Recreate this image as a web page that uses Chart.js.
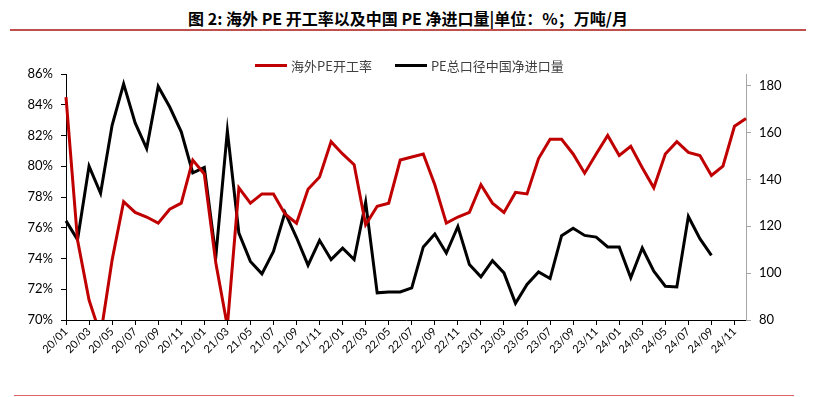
<!DOCTYPE html>
<html>
<head>
<meta charset="utf-8">
<script src="https://cdn.jsdelivr.net/npm/chart.js@4.4.0/dist/chart.umd.min.js"></script>
<style>
  body { margin: 0; background: #fff; }
  #wrap { position: relative; width: 816px; height: 397px; overflow: hidden; }
  #title {
    position: absolute; left: 0; top: 6px; width: 816px; text-align: center;
    font-family: "Noto Sans CJK SC", sans-serif; font-weight: bold; font-size: 16px; color: #000;
  }
  #rule1 { position: absolute; left: 10px; top: 29px; width: 796px; height: 2px; background: #c0504d; }
  #rule2 { position: absolute; left: 14px; top: 395px; width: 780px; height: 1px; background: #e06666; }
  #legend {
    position: absolute; left: 255px; top: 56px; height: 18px; display: flex; align-items: center;
    font-family: "Noto Sans CJK SC", sans-serif; font-size: 13px; color: #404040; z-index: 2;
  }
  #legend .item { display: flex; align-items: center; margin-right: 23px; }
  #legend .swatch { display: inline-block; width: 32px; height: 3px; margin-right: 4px; }
  canvas { position: absolute; left: 0; top: 0; }
</style>
</head>
<body>
<div id="wrap">
  <div id="title">图 2: 海外 PE 开工率以及中国 PE 净进口量|单位：%；万吨/月</div>
  <div id="rule1"></div>
  <div id="rule2"></div>
  <div id="legend"></div>
  <canvas id="chart" width="816" height="397"></canvas>
</div>
<script>
// month labels 20/01 .. 24/12
var months = [
  '20/01','20/02','20/03','20/04','20/05','20/06','20/07','20/08','20/09','20/10','20/11','20/12',
  '21/01','21/02','21/03','21/04','21/05','21/06','21/07','21/08','21/09','21/10','21/11','21/12',
  '22/01','22/02','22/03','22/04','22/05','22/06','22/07','22/08','22/09','22/10','22/11','22/12',
  '23/01','23/02','23/03','23/04','23/05','23/06','23/07','23/08','23/09','23/10','23/11','23/12',
  '24/01','24/02','24/03','24/04','24/05','24/06','24/07','24/08','24/09','24/10','24/11','24/12'
];

// 海外PE开工率 (%), left axis
var overseasRate = [
  84.5, 75.2, 71.3, 69.0, 73.9, 77.7, 77.0, 76.7, 76.3, 77.2, 77.6, 80.4,
  79.5, 73.7, 69.6, 78.6, 77.6, 78.2, 78.2, 76.9, 76.3, 78.5, 79.3, 81.6,
  80.8, 80.1, 76.2, 77.4, 77.6, 80.4, 80.6, 80.8, 78.8, 76.3, 76.7, 77.0,
  78.8, 77.6, 77.0, 78.3, 78.2, 80.5, 81.75, 81.75, 80.8, 79.55, 80.8, 82.0,
  80.7, 81.3, 79.9, 78.6, 80.8, 81.6, 80.9, 80.7, 79.4, 80.0, 82.6, 83.1
];

// PE总口径中国净进口量 (万吨/月), right axis
var netImports = [
  122.3, 114.3, 145.7, 134.1, 163.1, 180.8, 164.1, 153.2, 179.7, 170.9, 160.3, 142.8,
  145.1, 107.2, 160.7, 117.1, 105.0, 99.7, 109.3, 125.9, 115.2, 103.4, 114.0, 105.8,
  110.7, 105.8, 130.3, 91.6, 92.0, 92.0, 93.7, 111.2, 116.7, 108.6, 119.9, 103.7,
  98.4, 105.3, 100.1, 87.1, 95.2, 100.5, 97.7, 116.0, 119.2, 116.1, 115.4, 111.2,
  111.2, 98.0, 110.7, 100.8, 94.4, 94.1, 124.2, 114.7, 107.6
];

var leftTicks = [70, 72, 74, 76, 78, 80, 82, 84, 86];
var rightTicks = [80, 100, 120, 140, 160, 180];

var seriesNames = ['海外PE开工率', 'PE总口径中国净进口量'];
var seriesColors = ['#c00000', '#000000'];

var baseFont = { family: 'Lato, "Noto Sans", sans-serif', size: 13 };

var ctx = document.getElementById('chart').getContext('2d');
var myChart = new Chart(ctx, {
  type: 'line',
  data: {
    labels: months,
    datasets: [{
      label: seriesNames[0],
      data: overseasRate,
      yAxisID: 'y',
      borderColor: seriesColors[0],
      backgroundColor: seriesColors[0],
      borderWidth: 3,
      pointRadius: 0,
      tension: 0,
      clip: { left: 3, right: 3, top: 0, bottom: 0 }
    }, {
      label: seriesNames[1],
      data: netImports,
      yAxisID: 'y1',
      borderColor: seriesColors[1],
      backgroundColor: seriesColors[1],
      borderWidth: 3,
      pointRadius: 0,
      tension: 0,
      clip: { left: 3, right: 3, top: 0, bottom: 0 }
    }]
  },
  options: {
    responsive: false,
    animation: false,
    layout: { padding: { top: 74, left: 0, right: 0, bottom: 0 } },
    plugins: {
      tooltip: { enabled: false },
      legend: { display: false }
    },
    scales: {
      x: {
        offset: false,
        border: { color: '#000', width: 1 },
        grid: { drawOnChartArea: false, tickLength: 5, color: '#000' },
        ticks: {
          autoSkip: false,
          minRotation: 45,
          maxRotation: 45,
          color: '#000',
          padding: 0,
          font: { family: baseFont.family, size: 11 },
          callback: function (v, i) { return i % 2 === 0 ? months[i] : null; }
        },
        afterFit: function (s) { s.height = 77; }
      },
      y: {
        position: 'left',
        min: 70,
        max: 86,
        border: { color: '#000', width: 1 },
        grid: { drawOnChartArea: false, tickLength: 5, color: '#000' },
        afterBuildTicks: function (s) { s.ticks = leftTicks.map(function (v) { return { value: v }; }); },
        ticks: {
          color: '#000',
          font: baseFont,
          padding: 8,
          callback: function (v) { return v + '%'; }
        },
        afterFit: function (s) { s.width = 66; }
      },
      y1: {
        position: 'right',
        min: 80,
        max: 185,
        border: { color: '#a6a6a6', width: 1 },
        grid: { drawOnChartArea: false, tickLength: 5, color: '#a6a6a6' },
        afterBuildTicks: function (s) { s.ticks = rightTicks.map(function (v) { return { value: v }; }); },
        ticks: {
          color: '#000',
          font: baseFont,
          padding: 8
        },
        afterFit: function (s) { s.width = 70; }
      }
    }
  }
});

// legend built from the dataset names and colours
var legendEl = document.getElementById('legend');
myChart.data.datasets.forEach(function (ds) {
  var item = document.createElement('span');
  item.className = 'item';
  var sw = document.createElement('span');
  sw.className = 'swatch';
  sw.style.background = ds.borderColor;
  item.appendChild(sw);
  item.appendChild(document.createTextNode(ds.label));
  legendEl.appendChild(item);
});
</script>
</body>
</html>
